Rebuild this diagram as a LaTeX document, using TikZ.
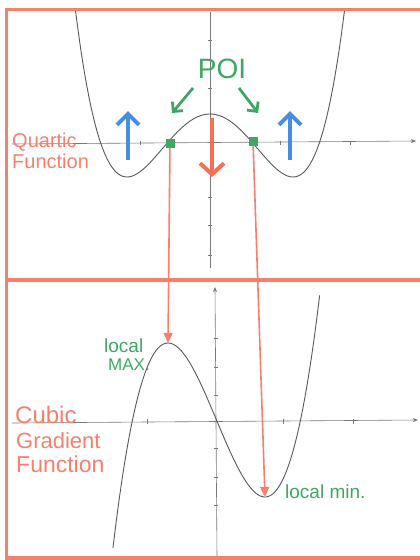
\documentclass[tikz,border=0pt]{standalone}
\usepackage{fontspec}
\setmainfont{Liberation Sans}
\usetikzlibrary{arrows.meta}
\definecolor{salmon}{RGB}{246,128,108}
\definecolor{poigreen}{RGB}{62,168,98}
\definecolor{upblue}{RGB}{72,140,228}
\definecolor{downred}{RGB}{244,112,84}
\definecolor{curvegray}{RGB}{88,88,88}
\definecolor{axisgray}{RGB}{120,120,120}
\tikzset{
  border/.style={draw=salmon, line width=3.5pt},
  curve/.style={draw=curvegray, line width=0.9pt},
  axis/.style={draw=axisgray, line width=0.6pt, -{Stealth[length=5pt,width=4pt]}},
  tick/.style={draw=axisgray, line width=0.6pt},
  salmonlbl/.style={text=salmon, inner sep=0pt, anchor=base west},
  greenlbl/.style={text=poigreen, inner sep=0pt, anchor=base west},
  poipt/.style={fill=poigreen, minimum size=9pt, inner sep=0pt},
  greenarrow/.style={draw=poigreen, line width=2.8pt, -{Straight Barb[length=7pt,width=14pt]}},
  bluearrow/.style={draw=upblue, line width=4pt, -{Straight Barb[length=11pt,width=22pt]}},
  redarrow/.style={draw=downred, line width=4pt, -{Straight Barb[length=11pt,width=24pt]}},
  dropline/.style={draw=salmon, line width=1.6pt, -{Triangle[length=10pt,width=9pt]}},
}
\begin{document}
\begin{tikzpicture}[x=1pt,y=-1pt]
\useasboundingbox (0,0) rectangle (420,560);
\fill[white] (0,0) rectangle (420,560);

% ---------- quartic panel ----------
\coordinate (qxL) at (12,144);
\coordinate (qxR) at (416,141);
\coordinate (qyB) at (210,268);
\coordinate (qyT) at (210,12);
\draw[axis] (qxL) -- (qxR);
\draw[tick] (qyB) -- (qyT);
\foreach \yy in {197,225,255,40,60,88} \draw[tick] (208,\yy) -- (212,\yy);
\foreach \xx in {280,140,350} \draw[tick] (\xx,141) -- (\xx,145);

\draw[curve] plot[domain=-1.62:1.62, samples=120, smooth]
  ({210+83*\x},{114+63*(2*\x*\x-\x*\x*\x*\x)});

% points of inflection
\node[poipt] (poiL) at (170,143) {};
\node[poipt] (poiR) at (253,141) {};

\node[text=poigreen, font=\fontsize{28}{30}\selectfont, inner sep=0pt] (poi) at (222,69) {POI};
\coordinate (gL0) at (193,88);
\coordinate (gL1) at (172,113);
\coordinate (gR0) at (239,88);
\coordinate (gR1) at (258,113);
\draw[greenarrow] (gL0) -- (gL1);
\draw[greenarrow] (gR0) -- (gR1);

% blue and red arrows
\coordinate (bL0) at (128,160);
\coordinate (bL1) at (128,111);
\coordinate (bR0) at (290,160);
\coordinate (bR1) at (290,111);
\draw[bluearrow] (bL0) -- (bL1);
\draw[bluearrow] (bR0) -- (bR1);
\coordinate (r0) at (212,118);
\coordinate (r1) at (212,177);
\draw[redarrow] (r0) -- (r1);

\node[salmonlbl, font=\fontsize{20}{22}\selectfont] (quart1) at (12,147) {Quartic};
\node[salmonlbl, font=\fontsize{20}{22}\selectfont] (quart2) at (12,168) {Function};

% ---------- cubic panel ----------
\coordinate (cxL) at (12,423);
\coordinate (cxR) at (418,420);
\coordinate (cyB) at (217,558);
\coordinate (cyT) at (215,287);
\draw[axis] (cxL) -- (cxR);
\draw[axis] (cyB) -- (cyT);
\foreach \yy in {338,367,395,448,477,505} \draw[tick] (214,\yy) -- (218,\yy);
\foreach \xx in {147,283,353} \draw[tick] (\xx,419) -- (\xx,424);

\draw[curve] plot[domain=-2.135:2.128, samples=120, smooth]
  ({216.5+48.5*\x},{420-38.5*(\x*\x*\x-3*\x)});

\coordinate (cmax) at (168,343);
\coordinate (cmin) at (265,497);

\node[greenlbl, font=\fontsize{19}{20}\selectfont] (lmax1) at (104,352) {local};
\node[greenlbl, font=\fontsize{17}{18}\selectfont] (lmax2) at (108,370) {MAX.};
\node[greenlbl, font=\fontsize{19}{20}\selectfont] (lmin) at (285,498) {local min.};

\node[salmonlbl, font=\fontsize{24}{26}\selectfont] (cub1) at (15,423) {Cubic};
\node[salmonlbl, font=\fontsize{22}{24}\selectfont] (cub2) at (16,448) {Gradient};
\node[salmonlbl, font=\fontsize{23}{25}\selectfont] (cub3) at (16,472) {Function};

% ---------- frame ----------
\coordinate (fTL) at (6.5,9.5);
\coordinate (fTR) at (420,9.5);
\coordinate (fBL) at (6.5,558);
\coordinate (fBR) at (420,558);
\coordinate (fML) at (6.5,280);
\coordinate (fMR) at (420,280);
\draw[border] (fTR) -- (fTL) -- (fBL) -- (fBR);
\draw[border, line width=4.5pt] (fML) -- (fMR);

% drop lines from inflection points to turning points
\draw[dropline] (poiL) -- (cmax);
\draw[dropline] (poiR) -- (cmin);
\end{tikzpicture}
\end{document}
